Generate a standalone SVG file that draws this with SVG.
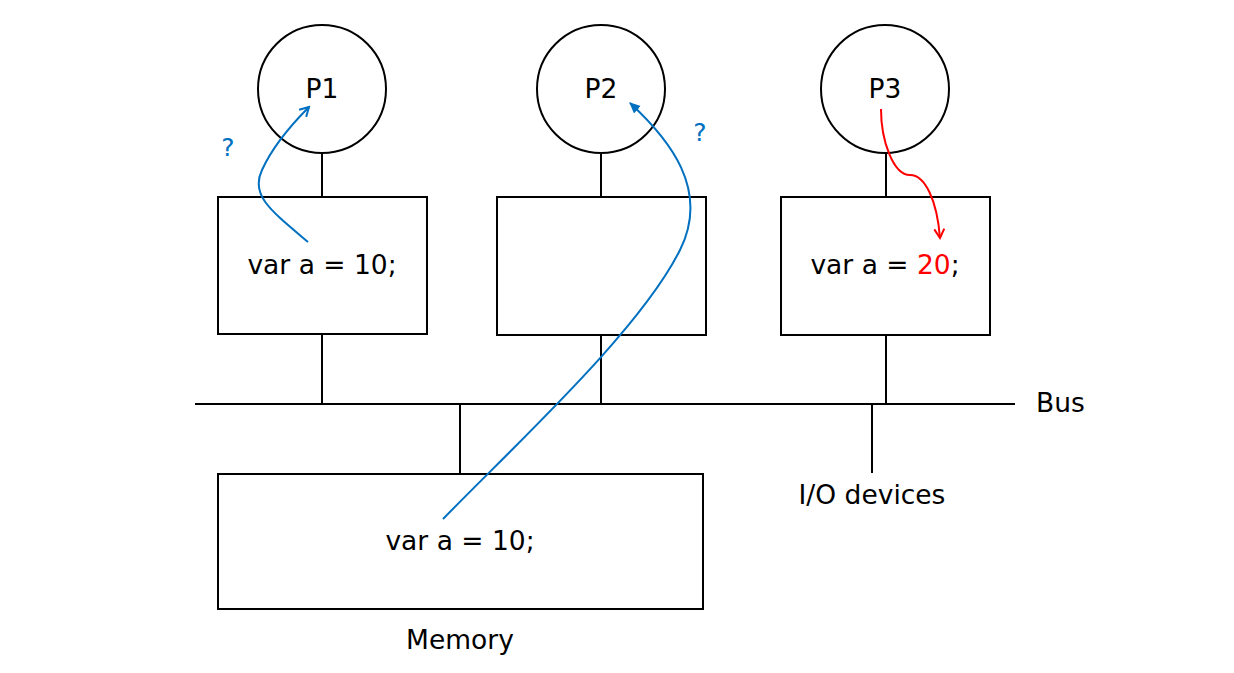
<svg xmlns="http://www.w3.org/2000/svg" width="1234" height="673" viewBox="0 0 1234 673">
<style>
.s{fill:none;stroke:#000;stroke-width:2}
.t{font-family:"DejaVu Sans",sans-serif;font-size:26.5px;fill:#000}
.q{font-family:"DejaVu Sans",sans-serif;font-size:25px;fill:#0070C0}
.b{fill:none;stroke:#0070C0;stroke-width:2}
.r{fill:none;stroke:#f00;stroke-width:2}
</style>
<defs>
<marker id="ob" markerWidth="12" markerHeight="12" refX="10" refY="6" orient="auto" markerUnits="userSpaceOnUse"><path d="M1,1 L10,6 L1,11" fill="none" stroke="#0070C0" stroke-width="2"/></marker>
<marker id="fb" markerWidth="12" markerHeight="12" refX="10" refY="6" orient="auto" markerUnits="userSpaceOnUse"><path d="M0,1 L11,6 L0,11 Z" fill="#0070C0"/></marker>
<marker id="or" markerWidth="12" markerHeight="12" refX="10" refY="6" orient="auto" markerUnits="userSpaceOnUse"><path d="M1,1 L10,6 L1,11" fill="none" stroke="#f00" stroke-width="2"/></marker>
</defs>
<rect width="1234" height="673" fill="#fff"/>
<g id="wires">
<line class="s" x1="195" y1="404" x2="1015" y2="404"/>
<line class="s" x1="322" y1="153" x2="322" y2="197"/>
<line class="s" x1="322" y1="334" x2="322" y2="404"/>
<line class="s" x1="601" y1="153" x2="601" y2="197"/>
<line class="s" x1="601" y1="335" x2="601" y2="404"/>
<line class="s" x1="886" y1="153" x2="886" y2="197"/>
<line class="s" x1="886" y1="335" x2="886" y2="404"/>
<line class="s" x1="460" y1="404" x2="460" y2="474"/>
<line class="s" x1="872" y1="404" x2="872" y2="473"/>
</g>
<g id="p1"><circle class="s" cx="322" cy="89" r="64"/><text class="t" x="322" y="98" text-anchor="middle">P1</text></g>
<g id="p2"><circle class="s" cx="601" cy="89" r="64"/><text class="t" x="601" y="98" text-anchor="middle">P2</text></g>
<g id="p3"><circle class="s" cx="885" cy="89" r="64"/><text class="t" x="885" y="98" text-anchor="middle">P3</text></g>
<g id="cache1"><rect class="s" x="218" y="197" width="209" height="137"/><text class="t" x="322" y="274" text-anchor="middle">var a = 10;</text></g>
<g id="cache2"><rect class="s" x="497" y="197" width="209" height="138"/></g>
<g id="cache3"><rect class="s" x="781" y="197" width="209" height="138"/><text class="t" x="885" y="274" text-anchor="middle">var a = <tspan fill="#f00">20</tspan>;</text></g>
<g id="memory"><rect class="s" x="218" y="474" width="485" height="135"/><text class="t" x="460" y="550" text-anchor="middle">var a = 10;</text><text class="t" x="460" y="649" text-anchor="middle">Memory</text></g>
<g id="bus"><text class="t" x="1036" y="412">Bus</text></g>
<g id="io"><text class="t" x="872" y="504" text-anchor="middle">I/O devices</text></g>
<g id="arrows">
<path class="b" d="M308,242 C270,210 250,195 262,170 C272,148 292,124 309,107" marker-end="url(#ob)"/>
<path class="b" d="M443,519 C520,440 640,330 680,250 C710,190 670,140 630,103" marker-end="url(#fb)"/>
<path class="r" d="M881,109 C881,140 893,175 910,175 C925,175 937,200 940,238" marker-end="url(#or)"/>
<text class="q" x="228" y="156" text-anchor="middle">?</text>
<text class="q" x="700" y="141" text-anchor="middle">?</text>
</g>
</svg>
